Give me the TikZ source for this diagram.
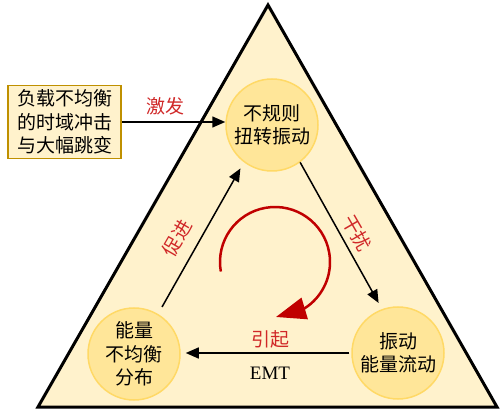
\documentclass[tikz,border=0pt]{standalone}
\usepackage{fontspec}
\setmainfont{Liberation Serif}
\newfontfamily\cjk{Noto Sans CJK SC}
\usetikzlibrary{arrows.meta,bending,calc}
\definecolor{triFill}{HTML}{FFF2CC}
\definecolor{boxBorder}{HTML}{BF9000}
\definecolor{circFill}{HTML}{FFE699}
\definecolor{circBorder}{HTML}{FFD966}
\definecolor{darkred}{HTML}{C00000}
\definecolor{labred}{HTML}{D02828}
\tikzset{
  circnode/.style={circle, fill=circFill, draw=circBorder, line width=1.5pt, minimum size=92pt, inner sep=0pt, align=center, font=\cjk\fontsize{19}{23.5}\selectfont},
  srcbox/.style={rectangle, fill=triFill, draw=boxBorder, line width=1.8pt, minimum width=113pt, minimum height=73pt, inner sep=0pt, align=center, font=\cjk\fontsize{19}{23.5}\selectfont},
  arr/.style={line width=1.5pt, -{Triangle[length=13pt,width=11pt]}},
  redlab/.style={text=labred, font=\cjk\fontsize{19}{23}\selectfont, inner sep=0pt},
}
\begin{document}
\begin{tikzpicture}[x=1pt,y=-1pt]
\useasboundingbox (0,0) rectangle (500,411);
\draw[fill=triFill, line width=3pt, line join=miter] (268,5) -- (497,407) -- (38,407) -- cycle;
\node[srcbox] (src) at (64.5,122) {负载不均衡\\的时域冲击\\与大幅跳变};
\node[circnode] (A) at (272,125) {不规则\\扭转振动};
\node[circnode] (B) at (134,354) {能量\\不均衡\\分布};
\node[circnode] (C) at (398,353) {振动\\能量流动};
\draw[arr] (src.east) -- (src.east -| A.west);
\draw[arr, shorten >=7pt] (A.-53) -- (C.110);
\draw[arr, shorten <=8pt, shorten >=7pt] (B.59) -- (A.233);
\draw[arr, shorten <=2pt, shorten >=5pt] (C.west) -- (C.west -| B.east);
\node[redlab] (l1) at (165,106) {激发};
\node[redlab, rotate=-60] (l2) at (357,233) {干扰};
\node[redlab, rotate=60] (l3) at (177,238) {促进};
\node[redlab] (l4) at (270,339) {引起};
\node[font=\fontsize{19}{23}\selectfont, inner sep=0pt] (l5) at (270,373) {EMT};
\coordinate (rc) at (275,262);
\draw[darkred, line width=2.5pt, -{Triangle[length=30pt,width=22pt]}] ($(rc)+(170:55)$) arc[start angle=170, end angle=449, radius=55];
\end{tikzpicture}
\end{document}
